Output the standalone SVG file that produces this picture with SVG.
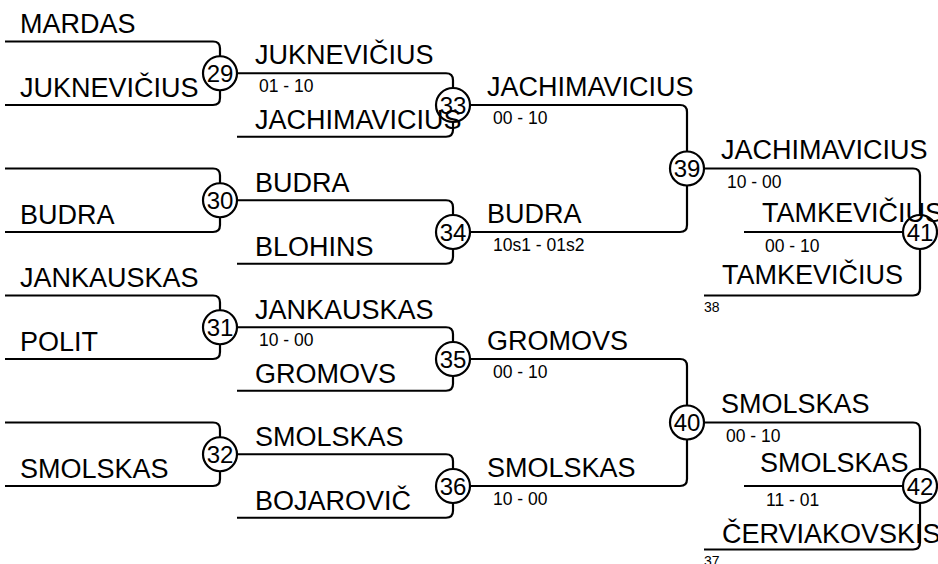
<svg xmlns="http://www.w3.org/2000/svg" width="938" height="564" viewBox="0 0 938 564">
<style>
.ln{fill:none;stroke:#000;stroke-width:2.2}
.c{fill:#fff;stroke:#000;stroke-width:2.2}
.n{font-family:"Liberation Sans",Arial,sans-serif;font-size:24px;fill:#000;text-anchor:middle}
.nm{font-family:"Liberation Sans",Arial,sans-serif;font-size:27px;fill:#000}
.sc{font-family:"Liberation Sans",Arial,sans-serif;font-size:17.5px;fill:#000}
.sm{font-family:"Liberation Sans",Arial,sans-serif;font-size:14px;fill:#000}
</style>
<rect width="938" height="564" fill="#fff"/>
<g id="connectors">
<path class="ln" d="M5,41.5 H213 Q220,41.5 220,48.5 V98 Q220,105 213,105 H5"/>
<path class="ln" d="M5,168.5 H213 Q220,168.5 220,175.5 V225 Q220,232 213,232 H5"/>
<path class="ln" d="M5,295.5 H213 Q220,295.5 220,302.5 V352 Q220,359 213,359 H5"/>
<path class="ln" d="M5,422.5 H213 Q220,422.5 220,429.5 V479 Q220,486 213,486 H5"/>
<path class="ln" d="M220,73.25 H446 Q453,73.25 453,80.25 V129.75 Q453,136.75 446,136.75 H237"/>
<path class="ln" d="M220,200.25 H446 Q453,200.25 453,207.25 V256.75 Q453,263.75 446,263.75 H237"/>
<path class="ln" d="M220,327.25 H446 Q453,327.25 453,334.25 V383.75 Q453,390.75 446,390.75 H237"/>
<path class="ln" d="M220,454.25 H446 Q453,454.25 453,461.25 V510.75 Q453,517.75 446,517.75 H237"/>
<path class="ln" d="M453,105 H680 Q687,105 687,112 V225 Q687,232 680,232 H453"/>
<path class="ln" d="M453,359 H680 Q687,359 687,366 V479 Q687,486 680,486 H453"/>
<path class="ln" d="M687,168.5 H913 Q920,168.5 920,175.5 V288.5 Q920,295.5 913,295.5 H704"/>
<path class="ln" d="M744,232 H920"/>
<path class="ln" d="M687,422.5 H913 Q920,422.5 920,429.5 V542.5 Q920,549.5 913,549.5 H704"/>
<path class="ln" d="M744,486 H920"/>
</g>
<g id="m29"><circle class="c" cx="220" cy="73.25" r="17"/><text class="n" x="220" y="81.8">29</text></g>
<g id="m30"><circle class="c" cx="220" cy="200.25" r="17"/><text class="n" x="220" y="208.8">30</text></g>
<g id="m31"><circle class="c" cx="220" cy="327.25" r="17"/><text class="n" x="220" y="335.8">31</text></g>
<g id="m32"><circle class="c" cx="220" cy="454.25" r="17"/><text class="n" x="220" y="462.8">32</text></g>
<g id="m33"><circle class="c" cx="453" cy="105" r="17"/><text class="n" x="453" y="113.5">33</text></g>
<g id="m34"><circle class="c" cx="453" cy="232" r="17"/><text class="n" x="453" y="240.5">34</text></g>
<g id="m35"><circle class="c" cx="453" cy="359" r="17"/><text class="n" x="453" y="367.5">35</text></g>
<g id="m36"><circle class="c" cx="453" cy="486" r="17"/><text class="n" x="453" y="494.5">36</text></g>
<g id="m39"><circle class="c" cx="687" cy="168.5" r="17"/><text class="n" x="687" y="177">39</text></g>
<g id="m40"><circle class="c" cx="687" cy="422.5" r="17"/><text class="n" x="687" y="431">40</text></g>
<g id="m41"><circle class="c" cx="920" cy="232" r="17"/><text class="n" x="920" y="240.5">41</text></g>
<g id="m42"><circle class="c" cx="920" cy="486" r="17"/><text class="n" x="920" y="494.5">42</text></g>
<g id="labels">
<text class="nm" x="20" y="33">MARDAS</text>
<text class="nm" x="20" y="97">JUKNEVIČIUS</text>
<text class="nm" x="20" y="224">BUDRA</text>
<text class="nm" x="20" y="287">JANKAUSKAS</text>
<text class="nm" x="20" y="351">POLIT</text>
<text class="nm" x="20" y="478">SMOLSKAS</text>
<text class="nm" x="255" y="64">JUKNEVIČIUS</text>
<text class="sc" x="259" y="92">01 - 10</text>
<text class="nm" x="255" y="129">JACHIMAVICIUS</text>
<text class="nm" x="255" y="192">BUDRA</text>
<text class="nm" x="255" y="256">BLOHINS</text>
<text class="nm" x="255" y="319">JANKAUSKAS</text>
<text class="sc" x="259" y="346">10 - 00</text>
<text class="nm" x="255" y="383">GROMOVS</text>
<text class="nm" x="255" y="446">SMOLSKAS</text>
<text class="nm" x="255" y="510">BOJAROVIČ</text>
<text class="nm" x="487" y="96">JACHIMAVICIUS</text>
<text class="sc" x="493" y="124">00 - 10</text>
<text class="nm" x="487" y="223">BUDRA</text>
<text class="sc" x="493" y="251">10s1 - 01s2</text>
<text class="nm" x="487" y="350">GROMOVS</text>
<text class="sc" x="493" y="378">00 - 10</text>
<text class="nm" x="487" y="477">SMOLSKAS</text>
<text class="sc" x="493" y="505">10 - 00</text>
<text class="nm" x="721" y="159">JACHIMAVICIUS</text>
<text class="sc" x="727" y="188">10 - 00</text>
<text class="nm" x="762" y="222">TAMKEVIČIUS</text>
<text class="sc" x="765" y="252">00 - 10</text>
<text class="nm" x="722" y="284">TAMKEVIČIUS</text>
<text class="sm" x="704" y="312">38</text>
<text class="nm" x="721" y="413">SMOLSKAS</text>
<text class="sc" x="726" y="442">00 - 10</text>
<text class="nm" x="760" y="472">SMOLSKAS</text>
<text class="sc" x="766" y="506">11 - 01</text>
<text class="nm" x="722" y="543">ČERVIAKOVSKIS</text>
<text class="sm" x="704" y="566">37</text>
</g>
</svg>
